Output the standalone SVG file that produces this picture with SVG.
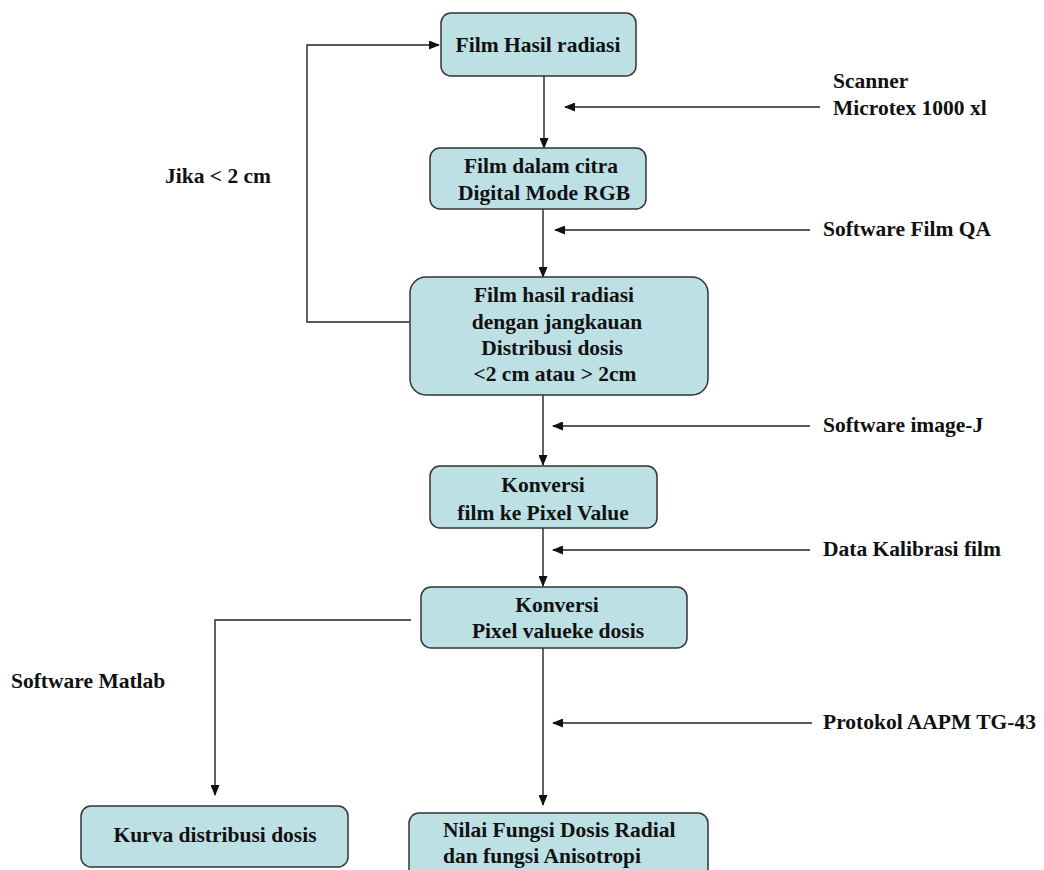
<svg xmlns="http://www.w3.org/2000/svg" width="1044" height="870" viewBox="0 0 1044 870">
<defs>
<marker id="ah" markerWidth="11" markerHeight="9" refX="10" refY="4.5" orient="auto" markerUnits="userSpaceOnUse">
<path d="M0,0 L11,4.5 L0,9 z" fill="#111"/>
</marker>
<style>
.box{fill:#bde0e5;stroke:#333;stroke-width:1.5}
.t{font-family:"Liberation Serif","Times New Roman",serif;font-weight:bold;font-size:21.5px;fill:#111}
.m{text-anchor:middle}
.c{fill:none;stroke:#222;stroke-width:1.4}
</style>
</defs>
<rect width="1044" height="870" fill="#fff"/>
<g id="connectors">
<path class="c" d="M544,76 L544,148" marker-end="url(#ah)"/>
<path class="c" d="M820,107 L565,107" marker-end="url(#ah)"/>
<path class="c" d="M543,209 L543,277" marker-end="url(#ah)"/>
<path class="c" d="M810,230 L555,230" marker-end="url(#ah)"/>
<path class="c" d="M543,395 L543,465" marker-end="url(#ah)"/>
<path class="c" d="M810,426 L553,426" marker-end="url(#ah)"/>
<path class="c" d="M543,528 L543,586" marker-end="url(#ah)"/>
<path class="c" d="M810,550 L553,550" marker-end="url(#ah)"/>
<path class="c" d="M543,648 L543,805" marker-end="url(#ah)"/>
<path class="c" d="M812,723 L553,723" marker-end="url(#ah)"/>
<path class="c" d="M409,322 L307,322 L307,45 L439,45" marker-end="url(#ah)"/>
<path class="c" d="M411,620 L215,620 L215,795" marker-end="url(#ah)"/>
</g>
<g id="label-scanner"><text class="t" x="833" y="88">Scanner</text><text class="t" x="833" y="115">Microtex 1000 xl</text></g>
<g id="label-filmqa"><text class="t" x="823" y="236">Software Film QA</text></g>
<g id="label-imagej"><text class="t" x="823" y="432">Software image-J</text></g>
<g id="label-kalibrasi"><text class="t" x="823" y="556">Data Kalibrasi film</text></g>
<g id="label-protokol"><text class="t" x="823" y="729">Protokol AAPM TG-43</text></g>
<g id="label-jika"><text class="t" x="165" y="183">Jika &lt; 2 cm</text></g>
<g id="label-matlab"><text class="t" x="11" y="688">Software Matlab</text></g>
<g id="n1"><rect class="box" x="441" y="13" width="195" height="63" rx="10"/><text class="t m" x="538" y="52">Film Hasil radiasi</text></g>
<g id="n2"><rect class="box" x="430" y="148" width="216" height="61" rx="10"/><text class="t m" x="541" y="173">Film dalam citra</text><text class="t m" x="544" y="200">Digital Mode RGB</text></g>
<g id="n3"><rect class="box" x="410" y="277" width="298" height="118" rx="16"/><text class="t m" x="554" y="302">Film hasil radiasi</text><text class="t m" x="557" y="329">dengan jangkauan</text><text class="t m" x="552" y="355">Distribusi dosis</text><text class="t m" x="555" y="381">&lt;2 cm atau &gt; 2cm</text></g>
<g id="n4"><rect class="box" x="430" y="466" width="227" height="62" rx="10"/><text class="t m" x="543" y="492">Konversi</text><text class="t m" x="543" y="520">film ke Pixel Value</text></g>
<g id="n5"><rect class="box" x="421" y="587" width="266" height="61" rx="10"/><text class="t m" x="557" y="612">Konversi</text><text class="t m" x="558" y="638">Pixel valueke dosis</text></g>
<g id="n6"><rect class="box" x="81" y="806" width="267" height="61" rx="10"/><text class="t m" x="215" y="842">Kurva distribusi dosis</text></g>
<g id="n7"><rect class="box" x="409" y="813" width="299" height="70" rx="10"/><text class="t" x="443" y="837">Nilai Fungsi Dosis Radial</text><text class="t" x="443" y="863">dan fungsi Anisotropi</text></g>
</svg>
